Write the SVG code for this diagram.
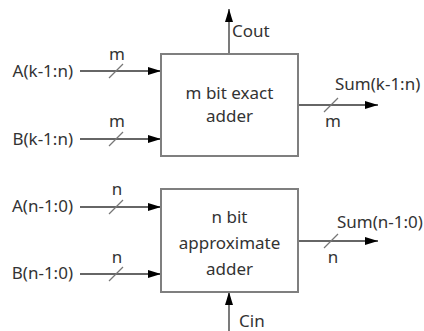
<svg xmlns="http://www.w3.org/2000/svg" width="424" height="331" viewBox="0 0 424 331">
<defs>
<marker id="ah" markerWidth="13" markerHeight="8" refX="13" refY="4" orient="auto" markerUnits="userSpaceOnUse">
<path d="M0,0 L13,4 L0,8 Z" fill="#000"/>
</marker>
<style>
text{font-family:"Noto Sans","Open Sans","Liberation Sans",sans-serif;font-size:17px;fill:#333}
.box{fill:#fff;stroke:#7f7f7f;stroke-width:2}
.w{stroke:#333;stroke-width:1.3;fill:none}
.sl{stroke:#777;stroke-width:1.3}
.c{text-anchor:middle}
.e{text-anchor:end}
</style>
</defs>
<rect width="424" height="331" fill="#fff"/>
<g id="connectors">
<line class="w" x1="80" y1="71" x2="161" y2="71" marker-end="url(#ah)"/>
<line class="sl" x1="109" y1="78" x2="123" y2="64"/>
<line class="w" x1="80" y1="139" x2="161" y2="139" marker-end="url(#ah)"/>
<line class="sl" x1="109" y1="146" x2="123" y2="132"/>
<line class="w" x1="229" y1="54" x2="229" y2="9" marker-end="url(#ah)"/>
<line class="w" x1="298" y1="105" x2="378" y2="105" marker-end="url(#ah)"/>
<line class="sl" x1="324" y1="112" x2="338" y2="98"/>
<line class="w" x1="80" y1="207" x2="161" y2="207" marker-end="url(#ah)"/>
<line class="sl" x1="109" y1="214" x2="123" y2="200"/>
<line class="w" x1="80" y1="274" x2="161" y2="274" marker-end="url(#ah)"/>
<line class="sl" x1="109" y1="281" x2="123" y2="267"/>
<line class="w" x1="298" y1="241" x2="378" y2="241" marker-end="url(#ah)"/>
<line class="sl" x1="324" y1="248" x2="338" y2="234"/>
<line class="w" x1="229" y1="331" x2="229" y2="292" marker-end="url(#ah)"/>
</g>
<g id="exact">
<rect class="box" x="161" y="54" width="137" height="102"/>
<text class="c" x="229.5" y="99">m bit exact</text>
<text class="c" x="229.5" y="122">adder</text>
</g>
<g id="approx">
<rect class="box" x="161" y="189" width="137" height="103"/>
<text class="c" x="229.5" y="223">n bit</text>
<text class="c" x="229.5" y="249">approximate</text>
<text class="c" x="229.5" y="275">adder</text>
</g>
<g id="labels">
<text class="e" x="73" y="77">A(k-1:n)</text>
<text class="e" x="73" y="145">B(k-1:n)</text>
<text class="c" x="117" y="60">m</text>
<text class="c" x="117" y="127">m</text>
<text x="232" y="37">Cout</text>
<text x="335" y="90">Sum(k-1:n)</text>
<text class="c" x="333" y="127">m</text>
<text class="e" x="73" y="212">A(n-1:0)</text>
<text class="e" x="73" y="279">B(n-1:0)</text>
<text class="c" x="117" y="195">n</text>
<text class="c" x="117" y="263">n</text>
<text x="337" y="228">Sum(n-1:0)</text>
<text class="c" x="333" y="263">n</text>
<text x="239" y="327">Cin</text>
</g>
</svg>
